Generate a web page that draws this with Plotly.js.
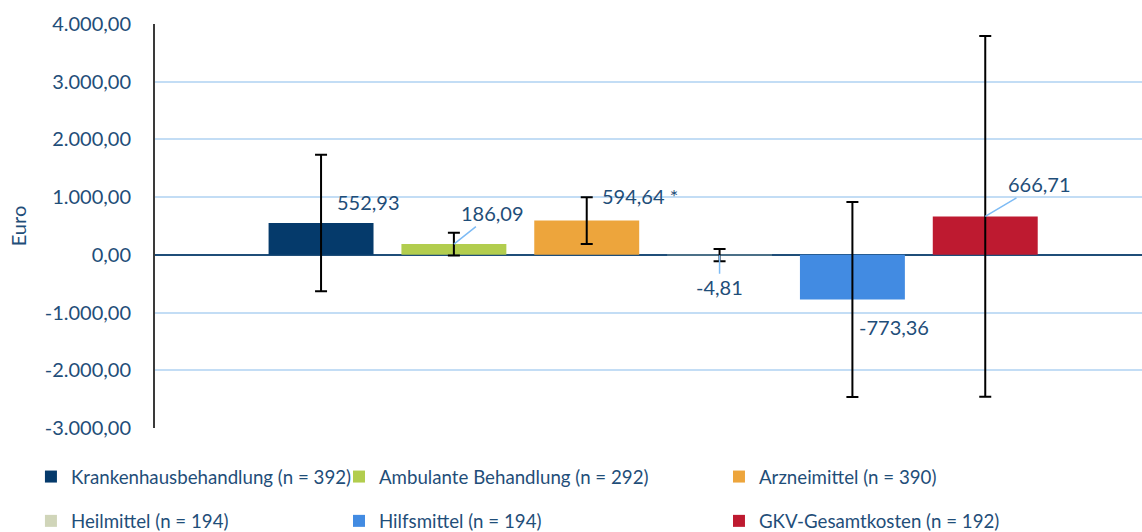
<!DOCTYPE html>
<html>
<head>
<meta charset="utf-8">
<script src="https://cdn.plot.ly/plotly-3.0.1.min.js"></script>
<style>
  html, body { margin: 0; padding: 0; background: #ffffff; }
  #chart { width: 1142px; height: 532px; }
</style>
</head>
<body>
<div id="chart"></div>
<script>
// ---- Data ----
const seriesNames = [
  'Krankenhausbehandlung (n = 392)',
  'Ambulante Behandlung (n = 292)',
  'Arzneimittel (n = 390)',
  'Heilmittel (n = 194)',
  'Hilfsmittel (n = 194)',
  'GKV-Gesamtkosten (n = 192)'
];
const values = [552.93, 186.09, 594.64, -4.81, -773.36, 666.71];
const errorHalfWidths = [1183, 196, 405, 105, 1688, 3125];
const valueLabels = ['552,93', '186,09', '594,64 *', '-4,81', '-773,36', '666,71'];
const yTickVals = [-3000, -2000, -1000, 0, 1000, 2000, 3000, 4000];
const yTickLabels = ['-3.000,00', '-2.000,00', '-1.000,00', '0,00', '1.000,00', '2.000,00', '3.000,00', '4.000,00'];
const yAxisTitle = 'Euro';

// ---- Styles ----
const colors = ['#053A6B', '#B2CD4E', '#EDA53C', '#D0D5B9', '#428BE2', '#BE1A30'];
const textColor = '#1F4E79';
const fontFamily = 'Lato, "Open Sans", sans-serif';
const legendOf = ['legend', 'legend2', 'legend3', 'legend', 'legend2', 'legend3'];

const traces = seriesNames.map((name, i) => ({
  type: 'bar',
  name: name,
  x: [name],
  y: [values[i]],
  width: 0.79,
  marker: { color: colors[i] },
  error_y: {
    type: 'data',
    symmetric: true,
    array: [errorHalfWidths[i]],
    color: '#000000',
    thickness: 2,
    width: 6
  },
  legend: legendOf[i],
  legendgroup: 'g' + i,
  hoverinfo: 'skip'
}));

// label placement (style only)
const labelStyle = [
  { showarrow: false, xanchor: 'left', xshift: 14, yshift: 21 },
  { showarrow: true, ax: 39, ay: -31 },
  { showarrow: false, xanchor: 'left', xshift: 13, yshift: 25 },
  { showarrow: true, ax: 0, ay: 32 },
  { showarrow: false, xanchor: 'left', xshift: 5, yshift: -28 },
  { showarrow: true, ax: 54, ay: -32 }
];

const annotations = seriesNames.map((name, i) => Object.assign({
  x: name,
  y: values[i],
  xref: 'x',
  yref: 'y',
  text: valueLabels[i],
  font: { family: fontFamily, size: 20, color: textColor },
  arrowhead: 0,
  arrowwidth: 1.5,
  arrowcolor: '#7DBBF5',
  yanchor: 'middle'
}, labelStyle[i]));

const legendBase = {
  orientation: 'v',
  xanchor: 'left',
  yanchor: 'top',
  y: -0.074,
  font: { family: fontFamily, size: 18.7, color: textColor },
  bgcolor: 'rgba(0,0,0,0)',
  tracegroupgap: 17,
  itemclick: false,
  itemdoubleclick: false
};

const layout = {
  width: 1142,
  height: 532,
  margin: { l: 155, r: 0, t: 24, b: 104, autoexpand: false },
  paper_bgcolor: '#ffffff',
  plot_bgcolor: '#ffffff',
  font: { family: fontFamily, size: 20, color: textColor },
  separators: ',.',
  barmode: 'overlay',
  showlegend: true,
  xaxis: {
    type: 'category',
    categoryorder: 'array',
    categoryarray: seriesNames,
    range: [-1.25, 6.18],
    showticklabels: false,
    showgrid: false,
    zeroline: false,
    showline: false,
    ticks: ''
  },
  yaxis: {
    range: [-3000, 4000],
    tickmode: 'array',
    tickvals: yTickVals,
    ticktext: yTickLabels,
    showgrid: true,
    gridcolor: '#C3DDF5',
    gridwidth: 2,
    zeroline: true,
    zerolinecolor: '#1F4E79',
    zerolinewidth: 2,
    showline: true,
    linecolor: '#3A3A3A',
    linewidth: 2,
    ticks: '',
    ticklabelstandoff: 18,
    automargin: true,
    tickfont: { family: fontFamily, size: 20, color: textColor },
    title: { text: yAxisTitle, standoff: 13, font: { family: fontFamily, size: 20, color: textColor } }
  },
  legend: Object.assign({}, legendBase, { x: -0.1257 }),
  legend2: Object.assign({}, legendBase, { x: 0.1864 }),
  legend3: Object.assign({}, legendBase, { x: 0.5714 }),
  annotations: annotations
};

Plotly.newPlot('chart', traces, layout, { displayModeBar: false, staticPlot: true });
</script>
</body>
</html>
